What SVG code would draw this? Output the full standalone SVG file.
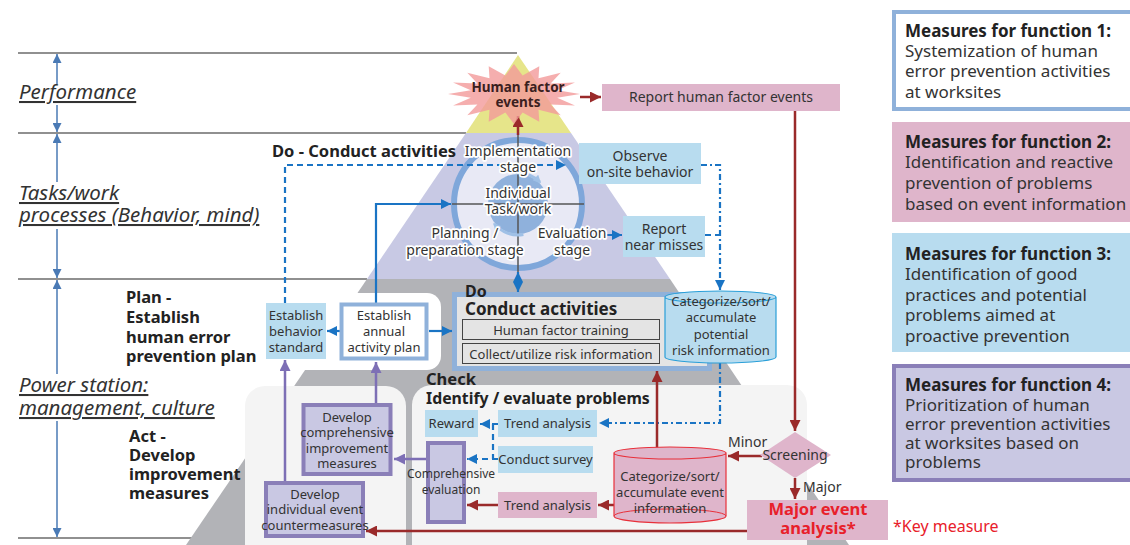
<svg xmlns="http://www.w3.org/2000/svg" width="1130" height="545" viewBox="0 0 1130 545">
<defs>
<style>
text{font-family:"Noto Sans","Open Sans","Liberation Sans",sans-serif;fill:#333;}
.c{text-anchor:middle}
.s{font-size:13px}
.m{font-size:14px}
.b{font-weight:bold}
.h{font-size:16.5px;font-weight:bold;fill:#222}
.ax{font-size:20.5px;font-style:italic;text-decoration:underline}
.fn{font-size:17px}
.red{fill:#e8202a}
.dk{fill:#222}
.hf{fill:#3a2020}
.halo{paint-order:stroke;stroke:#fff;stroke-width:3.5px;stroke-linejoin:round}
.hl{stroke:#6b6b6b;stroke-width:1.5}
.bl{fill:none;stroke:#1a74c4;stroke-width:2.2}
.bd{fill:none;stroke:#1a74c4;stroke-width:2.2;stroke-dasharray:6 4}
.bdd{fill:none;stroke:#1a74c4;stroke-width:2.2;stroke-dasharray:6 3 2 3}
.rd{fill:none;stroke:#9a2a2a;stroke-width:2.5}
.pu{fill:none;stroke:#7d6fb5;stroke-width:2.5}
.axl{fill:none;stroke:#4a7ab5;stroke-width:1.5}
.bbox{fill:#b8dcef}
.pbox{fill:#dfb5cb}
.vbox{fill:#c9c8e3;stroke:#8a7fb8;stroke-width:4}
.wbox{fill:#fff;stroke:#8fb1da;stroke-width:4}
.cont{fill:#f4f4f4}
</style>
<marker id="mb" viewBox="0 0 10 10" refX="10" refY="5" markerWidth="10" markerHeight="10" markerUnits="userSpaceOnUse" orient="auto-start-reverse"><path d="M0,0L10,5L0,10z" fill="#1a74c4"/></marker>
<marker id="mr" viewBox="0 0 10 10" refX="10" refY="5" markerWidth="11" markerHeight="11" markerUnits="userSpaceOnUse" orient="auto-start-reverse"><path d="M0,0L10,5L0,10z" fill="#9a2a2a"/></marker>
<marker id="mp" viewBox="0 0 10 10" refX="10" refY="5" markerWidth="11" markerHeight="11" markerUnits="userSpaceOnUse" orient="auto-start-reverse"><path d="M0,0L10,5L0,10z" fill="#7d6fb5"/></marker>
<marker id="ma" viewBox="0 0 10 10" refX="10" refY="5" markerWidth="9" markerHeight="9" markerUnits="userSpaceOnUse" orient="auto-start-reverse"><path d="M0,0L10,5L0,10z" fill="#4a7ab5"/></marker>
<marker id="ml" viewBox="0 0 10 10" refX="8" refY="5" markerWidth="8" markerHeight="8" markerUnits="userSpaceOnUse" orient="auto"><path d="M0,0L10,5L0,10z" fill="#9fc0e6"/></marker>
</defs>

<rect width="1130" height="545" fill="#fff"/>

<g id="levels">
<line class="hl" x1="18" y1="53" x2="517" y2="53"/>
<line class="hl" x1="18" y1="133" x2="466" y2="133"/>
<line class="hl" x1="18" y1="279" x2="367" y2="279"/>
<line class="hl" x1="18" y1="538" x2="195" y2="538"/>
<path class="axl" d="M57,84V54" marker-end="url(#ma)"/>
<path class="axl" d="M57,105V132" marker-end="url(#ma)"/>
<path class="axl" d="M57,182V134" marker-end="url(#ma)"/>
<path class="axl" d="M57,229V278" marker-end="url(#ma)"/>
<path class="axl" d="M57,374V280" marker-end="url(#ma)"/>
<path class="axl" d="M57,421V537" marker-end="url(#ma)"/>
<text class="ax" x="19" y="99">Performance</text>
<text class="ax" x="19" y="200">Tasks/work</text>
<text class="ax" x="19" y="222">processes (Behavior, mind)</text>
<text class="ax" x="19" y="392">Power station:</text>
<text class="ax" x="19" y="415">management, culture</text>
</g>

<g id="pyramid">
<polygon points="518,55 571,133 466,133" fill="#e6e58a"/>
<polygon points="466,133 571,133 670,279 367,279" fill="#c8c9e4"/>
<polygon points="367,279 670,279 849,545 186,545" fill="#b2b3b7"/>
</g>

<g id="containers">
<rect x="245" y="293" width="196" height="77" rx="14" fill="#fff"/>
<rect x="245" y="386" width="161" height="180" rx="20" class="cont"/>
<rect x="412" y="385" width="395" height="180" rx="20" class="cont"/>
</g>

<g id="node-cycle">
<circle cx="518" cy="204" r="64" fill="#e8e9f5" stroke="#7fa7da" stroke-width="6"/>
<circle cx="518" cy="204" r="30" fill="#8fb1dc"/>
<line x1="518" y1="133" x2="518" y2="272" stroke="#555" stroke-width="1.5"/>
<line x1="452" y1="204" x2="584" y2="204" stroke="#555" stroke-width="1.5"/>
<path d="M515.3,173.1A31,31 0 0 1 539.9,182.1" fill="none" stroke="#9fc0e6" stroke-width="3" marker-end="url(#ml)"/>
<path d="M523.4,234.5A31,31 0 0 1 494.3,223.9" fill="none" stroke="#9fc0e6" stroke-width="3" marker-end="url(#ml)"/>
</g>

<g id="connectors">
<path class="bd" d="M285,303V165H566" marker-end="url(#mb)"/>
<path class="bdd" d="M701,165H720V290" marker-end="url(#mb)"/>
<path class="bd" d="M607,235H622" marker-end="url(#mb)"/>
<path class="bd" d="M705,235H720"/>
<path class="bdd" d="M720,363V423H599" marker-end="url(#mb)"/>
<path class="bdd" d="M498,424H480" marker-end="url(#mb)"/>
<path class="bd" d="M493,424V459"/>
<path class="bd" d="M498,459H467" marker-end="url(#mb)"/>
<path class="bl" d="M376,303V204H451" marker-end="url(#mb)"/>
<path class="bl" d="M340,331H327" marker-end="url(#mb)"/>
<path class="bl" d="M429,331H452" marker-end="url(#mb)"/>
<path class="bl" d="M518,272V292" marker-start="url(#mb)" marker-end="url(#mb)"/>
<path class="rd" d="M518,135V116" marker-end="url(#mr)"/>
<path class="rd" d="M580,97H601" marker-end="url(#mr)"/>
<path class="rd" d="M795,111V431" marker-end="url(#mr)"/>
<path class="rd" d="M762,456H728" marker-end="url(#mr)"/>
<path class="rd" d="M795,478V499" marker-end="url(#mr)"/>
<path class="rd" d="M747,531H366" marker-end="url(#mr)"/>
<path class="rd" d="M657,452V371" marker-end="url(#mr)"/>
<path class="rd" d="M614,505H598" marker-end="url(#mr)"/>
<path class="rd" d="M498,505H467" marker-end="url(#mr)"/>
<path class="pu" d="M426,459H394" marker-end="url(#mp)"/>
<path class="pu" d="M285,481V360" marker-end="url(#mp)"/>
<path class="pu" d="M376,403V362" marker-end="url(#mp)"/>
</g>

<g id="node-hf-events">
<polygon points="580,94 557.2,97.7 575,105.5 550.6,104.6 560.7,115.2 538.5,109.8 539.3,121.7 522.6,112.6 514,124 505.4,112.6 488.7,121.7 489.5,109.8 467.3,115.2 477.4,104.6 453,105.5 470.8,97.7 448,94 470.8,90.3 453,82.5 477.4,83.4 467.3,72.8 489.5,78.2 488.7,66.3 505.4,75.4 514,64 522.6,75.4 539.3,66.3 538.5,78.2 560.7,72.8 550.6,83.4 575,82.5 557.2,90.3" fill="#f29a9a" opacity="0.8"/>
<text class="c b hf" x="518" y="92" font-size="13.5">Human factor</text>
<text class="c b hf" x="518" y="107" font-size="13.5">events</text>
</g>

<g id="node-report-hf">
<rect class="pbox" x="602" y="84" width="238" height="27"/>
<text class="c m" x="721" y="102">Report human factor events</text>
</g>

<g id="node-stages">
<text class="c m halo" x="518" y="156">Implementation</text>
<text class="c m halo" x="518" y="172">stage</text>
<text class="c m halo" x="518" y="198">Individual</text>
<text class="c m halo" x="518" y="214">Task/work</text>
<text class="c m halo" x="465" y="238">Planning /</text>
<text class="c m halo" x="465" y="255">preparation stage</text>
<text class="c m halo" x="572" y="238">Evaluation</text>
<text class="c m halo" x="572" y="255">stage</text>
</g>

<g id="node-do-title">
<text class="h" x="272" y="157">Do - Conduct activities</text>
</g>

<g id="node-observe">
<rect class="bbox" x="579" y="143" width="122" height="41"/>
<text class="c m" x="640" y="161">Observe</text>
<text class="c m" x="640" y="177">on-site behavior</text>
</g>

<g id="node-near-miss">
<rect class="bbox" x="623" y="216" width="82" height="41"/>
<text class="c m" x="664" y="234">Report</text>
<text class="c m" x="664" y="250">near misses</text>
</g>

<g id="node-plan-title">
<text class="h" x="126" y="303">Plan -</text>
<text class="h" x="126" y="323">Establish</text>
<text class="h" x="126" y="343">human error</text>
<text class="h" x="126" y="362">prevention plan</text>
</g>

<g id="node-act-title">
<text class="h" x="129" y="442">Act -</text>
<text class="h" x="129" y="461">Develop</text>
<text class="h" x="129" y="480">improvement</text>
<text class="h" x="129" y="499">measures</text>
</g>

<g id="node-behavior-std">
<rect class="bbox" x="266" y="303" width="60" height="56"/>
<text class="c s" x="296" y="320">Establish</text>
<text class="c s" x="296" y="336">behavior</text>
<text class="c s" x="296" y="352">standard</text>
</g>

<g id="node-annual-plan">
<rect class="wbox" x="341.5" y="304.5" width="85" height="54"/>
<text class="c s" x="384" y="320">Establish</text>
<text class="c s" x="384" y="336">annual</text>
<text class="c s" x="384" y="352">activity plan</text>
</g>

<g id="node-do">
<rect x="454.5" y="294.5" width="255" height="74" fill="#e4e4e4" stroke="#8fb1da" stroke-width="5"/>
<text class="b dk" x="465" y="297" font-size="16">Do</text>
<text class="b dk" x="465" y="315" font-size="17">Conduct activities</text>
<rect x="462.5" y="319.5" width="197" height="20" fill="#e4e4e4" stroke="#444" stroke-width="1"/>
<text class="c s" x="561" y="334.5">Human factor training</text>
<rect x="462.5" y="343.5" width="197" height="20" fill="#e4e4e4" stroke="#444" stroke-width="1"/>
<text class="c s" x="561" y="358.5">Collect/utilize risk information</text>
</g>

<g id="node-potential-risk">
<path d="M665,297v60a55.5,6 0 0 0 111,0v-60a55.5,6 0 0 0 -111,0a55.5,6 0 0 0 111,0" fill="#b8dcef" stroke="#2a9fd8" stroke-width="1.2"/>
<text class="c s" x="721" y="306">Categorize/sort/</text>
<text class="c s" x="721" y="322">accumulate</text>
<text class="c s" x="721" y="339">potential</text>
<text class="c s" x="721" y="355">risk information</text>
</g>

<g id="node-check-title">
<text class="h" x="426" y="385">Check</text>
<text class="h" x="426" y="404" style="font-size:15.8px">Identify / evaluate problems</text>
</g>

<g id="node-reward">
<rect class="bbox" x="425" y="410" width="53" height="27"/>
<text class="c s" x="451.5" y="428">Reward</text>
</g>

<g id="node-trend-blue">
<rect class="bbox" x="498" y="410" width="99" height="27"/>
<text class="c s" x="547.5" y="428">Trend analysis</text>
</g>

<g id="node-survey">
<rect class="bbox" x="498" y="446" width="95" height="27"/>
<text class="c s" x="545.5" y="464">Conduct survey</text>
</g>

<g id="node-trend-pink">
<rect class="pbox" x="498" y="492" width="99" height="26"/>
<text class="c s" x="547.5" y="510">Trend analysis</text>
</g>

<g id="node-event-info">
<path d="M614,453v63a56,7 0 0 0 112,0v-63a56,6 0 0 0 -112,0a56,6 0 0 0 112,0" fill="#dfb5cb" stroke="#e8303a" stroke-width="1.2"/>
<path d="M614,516a56,7 0 0 1 112,0" fill="none" stroke="#e8303a" stroke-width="1"/>
<text class="c s" x="670" y="481">Categorize/sort/</text>
<text class="c s" x="670" y="497">accumulate event</text>
<text class="c s" x="670" y="513">information</text>
</g>

<g id="node-comp-eval">
<rect class="vbox" x="428" y="443" width="36" height="79"/>
<text class="c" x="451" y="478" style="font-size:12px">Comprehensive</text>
<text class="c" x="451" y="494" style="font-size:12px">evaluation</text>
</g>

<g id="node-comp-improve">
<rect class="vbox" x="303.5" y="405" width="87" height="69"/>
<text class="c s" x="347" y="422">Develop</text>
<text class="c s" x="347" y="437">comprehensive</text>
<text class="c s" x="347" y="453">improvement</text>
<text class="c s" x="347" y="468">measures</text>
</g>

<g id="node-individual">
<rect class="vbox" x="266" y="483" width="97" height="53"/>
<text class="c s" x="315" y="499">Develop</text>
<text class="c s" x="315" y="514">individual event</text>
<text class="c s" x="315" y="530">countermeasures</text>
</g>

<g id="node-screening">
<polygon class="pbox" points="795,432 831,455 795,478 760,455"/>
<text class="c m" x="795" y="460">Screening</text>
<text class="m" x="728" y="447">Minor</text>
<text class="m" x="803" y="492">Major</text>
</g>

<g id="node-major">
<rect class="pbox" x="747" y="500" width="141" height="40"/>
<text class="c b red" x="818" y="515" style="font-size:16.5px">Major event</text>
<text class="c b red" x="818" y="534" style="font-size:16.5px">analysis*</text>
<text class="red" x="893" y="532" style="font-size:16px">*Key measure</text>
</g>

<g id="node-func1">
<rect x="894" y="12" width="240" height="97" fill="#fff" stroke="#8fb1da" stroke-width="4"/>
<text class="fn b dk" x="905" y="37">Measures for function 1:</text>
<text class="fn" x="905" y="57">Systemization of human</text>
<text class="fn" x="905" y="77">error prevention activities</text>
<text class="fn" x="905" y="98">at worksites</text>
</g>

<g id="node-func2">
<rect class="pbox" x="892" y="122" width="240" height="100"/>
<text class="fn b dk" x="905" y="148">Measures for function 2:</text>
<text class="fn" x="905" y="168">Identification and reactive</text>
<text class="fn" x="905" y="189">prevention of problems</text>
<text class="fn" x="905" y="210">based on event information</text>
</g>

<g id="node-func3">
<rect class="bbox" x="892" y="233" width="240" height="119"/>
<text class="fn b dk" x="905" y="260">Measures for function 3:</text>
<text class="fn" x="905" y="280">Identification of good</text>
<text class="fn" x="905" y="301">practices and potential</text>
<text class="fn" x="905" y="321">problems aimed at</text>
<text class="fn" x="905" y="342">proactive prevention</text>
</g>

<g id="node-func4">
<rect class="vbox" x="894" y="366" width="240" height="114"/>
<text class="fn b dk" x="905" y="391">Measures for function 4:</text>
<text class="fn" x="905" y="411">Prioritization of human</text>
<text class="fn" x="905" y="430">error prevention activities</text>
<text class="fn" x="905" y="449">at worksites based on</text>
<text class="fn" x="905" y="468">problems</text>
</g>
</svg>
